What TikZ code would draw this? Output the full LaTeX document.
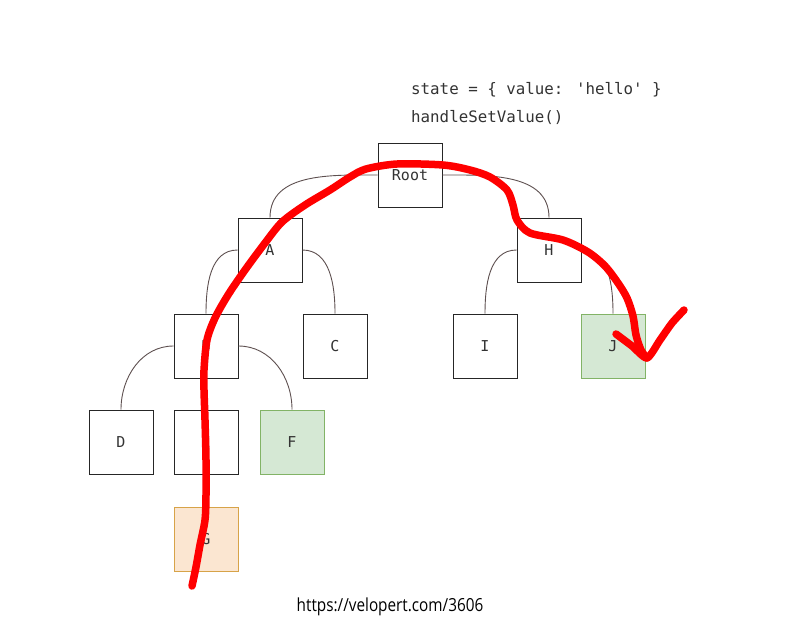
\documentclass[tikz,border=0pt]{standalone}
\usepackage{fontspec}
\newfontfamily\monof{DejaVu Sans Mono}
\newfontfamily\urlf{Open Sans}
\definecolor{conncol}{HTML}{5E5050}
\definecolor{greenfill}{HTML}{D5E8D4}
\definecolor{greenline}{HTML}{82B366}
\definecolor{orangefill}{HTML}{FBE6D1}
\definecolor{orangeline}{HTML}{D7A348}
\definecolor{txtcol}{HTML}{333333}
\begin{document}
\begin{tikzpicture}[x=1pt,y=-1pt,
  treebox/.style={draw=black!85,line width=0.9pt,minimum size=64pt,inner sep=0pt,fill=white,
    font=\monof\fontsize{15}{18}\selectfont,text=txtcol},
  greenbox/.style={treebox,fill=greenfill,draw=greenline},
  orangebox/.style={treebox,fill=orangefill,draw=orangeline},
  conn/.style={draw=conncol,line width=0.9pt},
  codetext/.style={anchor=west,inner sep=0pt,font=\monof\fontsize{15.8}{18}\selectfont,text=txtcol},
  redstroke/.style={draw=red,line width=7.5pt,line cap=round,line join=round}]
\useasboundingbox (0,0) rectangle (799,634);
\fill[white] (0,0) rectangle (799,634);

\node[treebox] (root) at (410,175) {Root};
\node[treebox] (a) at (270,250) {A};
\node[treebox] (h) at (549,250) {H};
\node[treebox] (b) at (206,346) {B};
\node[treebox] (c) at (335,346) {C};
\node[treebox] (i) at (485,346) {I};
\node[greenbox] (j) at (613,346) {J};
\node[treebox] (d) at (121,442) {D};
\node[treebox] (e) at (206,442) {E};
\node[greenbox] (f) at (292,442) {F};
\node[orangebox] (g) at (206,539) {G};

\draw[conn] (root.west) to[out=180,in=90] (a.north);
\draw[conn] (root.east) to[out=0,in=90] (h.north);
\draw[conn] (a.west) to[out=180,in=90] (b.north);
\draw[conn] (a.east) to[out=0,in=90] (c.north);
\draw[conn] (h.west) to[out=180,in=90] (i.north);
\draw[conn] (h.east) to[out=0,in=90] (j.north);
\draw[conn] (b.west) to[out=180,in=90] (d.north);
\draw[conn] (b.east) to[out=0,in=90] (f.north);
\draw[conn] (b.south) -- (e.north);
\draw[conn] (e.south) -- (g.north);

\node[codetext] (st) at (411,90) {state = \{ value: 'hello' \}};
\node[codetext] (hs) at (411,117) {handleSetValue()};

\node[inner sep=0pt,font=\urlf\fontsize{18}{20}\selectfont,text=black] (url) at (390,607) {\scalebox{0.85}[1]{https://velopert.com/3606}};

\draw[redstroke] plot[smooth,tension=0.5] coordinates {
 (192,586) (196,567) (200,545) (205,520) (206,495) (206,460) (205,420) (204,390) (204,370)
 (207,340) (215,318) (228,295) (245,270) (265,243) (282,222) (305,205) (330,190)
 (350,177) (366,169) (397,164) (443,165) (470,170) (490,177) (507,190) (513,205)
 (517,220) (530,233) (563,240) (588,252) (605,266) (618,283) (627,298) (633,316)
 (636,335) (641,350) (647,358)};
\draw[redstroke] plot[smooth,tension=0.4] coordinates {
 (616,334) (632,346) (647,358) (660,340) (672,323) (684,310)};
\end{tikzpicture}
\end{document}
